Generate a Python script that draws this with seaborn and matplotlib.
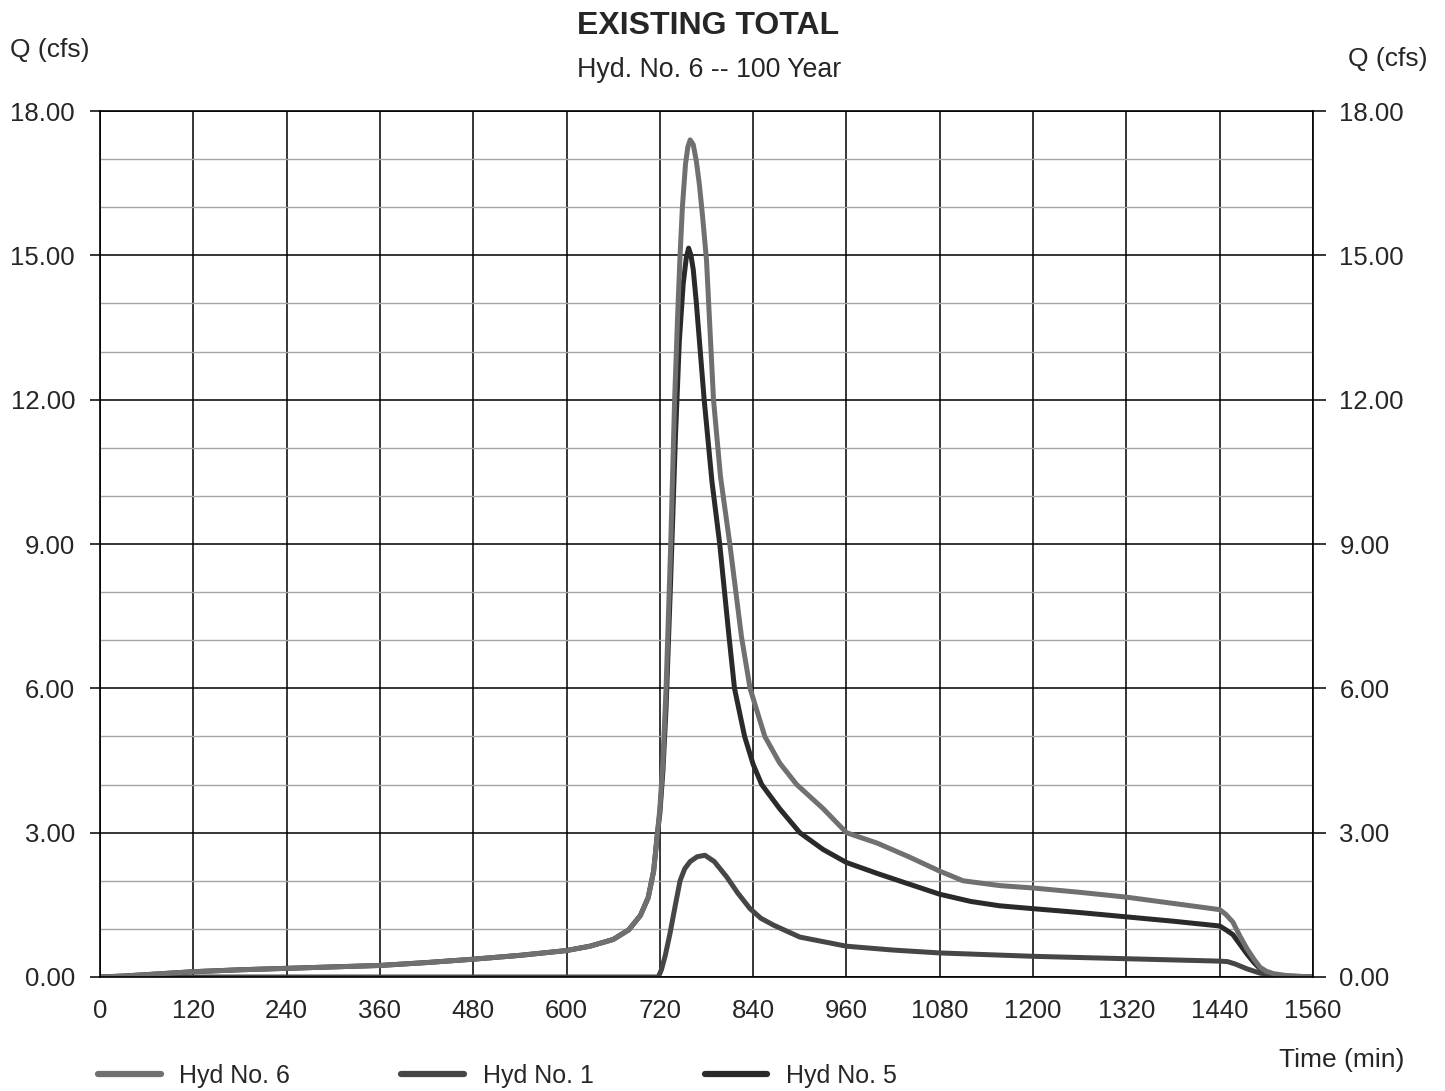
import numpy as np
import pandas as pd
import matplotlib
matplotlib.use("Agg")
import matplotlib.pyplot as plt
from matplotlib.ticker import MultipleLocator, FormatStrFormatter
import seaborn as sns

# Hydrograph ordinates (time in minutes, flow in cfs)
time6 = [0, 30, 60, 120, 180, 240, 300, 360, 420, 480, 540, 600, 630, 660, 680, 695, 705, 712, 717, 720,
         724, 728, 734, 739, 743, 746, 749, 753, 756, 759, 763, 767, 771, 775, 780, 789, 798, 810,
         825, 836, 855, 874, 896, 930, 960, 1000, 1040, 1080, 1110, 1157, 1200, 1260, 1320, 1380, 1440,
         1448, 1457, 1466, 1475, 1484, 1492, 1500, 1509, 1526, 1560]
q6 = [0, 0.02, 0.05, 0.11, 0.15, 0.18, 0.21, 0.24, 0.3, 0.37, 0.45, 0.55, 0.64, 0.78, 0.98, 1.28, 1.65, 2.2, 3.0, 3.5,
      4.5, 6.0, 9.0, 12.0, 13.8, 15.0, 16.0, 16.9, 17.25, 17.4, 17.3, 16.95, 16.45, 15.8, 14.9, 12.0, 10.4, 9.0,
      7.07, 6.0, 5.0, 4.45, 4.0, 3.5, 3.0, 2.78, 2.5, 2.2, 2.0, 1.9, 1.85, 1.76, 1.66, 1.53, 1.4,
      1.3, 1.14, 0.85, 0.59, 0.37, 0.2, 0.12, 0.07, 0.03, 0.0]

time1 = [0, 300, 600, 718, 722, 727, 733, 740, 746, 752, 759, 768, 778, 790, 806, 820, 836, 850, 866, 900,
         960, 1020, 1080, 1200, 1320, 1440, 1450, 1460, 1475, 1492, 1510, 1530, 1560]
q1 = [0, 0, 0, 0, 0.15, 0.45, 0.9, 1.5, 2.0, 2.25, 2.4, 2.5, 2.53, 2.4, 2.08, 1.75, 1.42, 1.22, 1.08, 0.83,
      0.64, 0.56, 0.5, 0.43, 0.38, 0.33, 0.32, 0.27, 0.17, 0.08, 0.03, 0.01, 0]

time5 = [0, 30, 60, 120, 180, 240, 300, 360, 420, 480, 540, 600, 630, 660, 680, 695, 705, 712, 717,
         720, 724, 728, 734, 740, 745, 750, 754, 757, 760, 763, 767, 777, 787, 797, 809, 816, 829, 840, 851,
         874, 900, 930, 960, 1000, 1037, 1080, 1120, 1157, 1200, 1260, 1320, 1380, 1440, 1448, 1457, 1466,
         1475, 1484, 1492, 1500, 1509, 1526, 1560]
q5 = [0, 0.02, 0.05, 0.11, 0.15, 0.18, 0.21, 0.24, 0.3, 0.37, 0.45, 0.55, 0.64, 0.78, 0.98, 1.28, 1.65, 2.2, 3.0,
      3.4, 4.3, 5.6, 8.3, 11.2, 13.2, 14.4, 14.95, 15.15, 15.0, 14.7, 14.0, 12.0, 10.3, 9.0, 7.07, 6.0, 5.0, 4.42, 4.0,
      3.5, 3.0, 2.65, 2.38, 2.15, 1.95, 1.72, 1.57, 1.48, 1.42, 1.34, 1.25, 1.16, 1.06, 0.98, 0.88, 0.68,
      0.48, 0.3, 0.17, 0.1, 0.05, 0.02, 0.0]

series_names = ["Hyd No. 6", "Hyd No. 1", "Hyd No. 5"]
x_ticks = list(range(0, 1561, 120))

frames = []
for name, t, q in [("Hyd No. 6", time6, q6), ("Hyd No. 1", time1, q1), ("Hyd No. 5", time5, q5)]:
    frames.append(pd.DataFrame({"Time (min)": t, "Q (cfs)": q, "Hydrograph": name}))
df = pd.concat(frames, ignore_index=True)

sns.set_style("white")
plt.rcParams["font.family"] = ["Liberation Sans", "DejaVu Sans"]

palette = {"Hyd No. 6": "#707070", "Hyd No. 1": "#464646", "Hyd No. 5": "#2a2a2a"}

fig = plt.figure(figsize=(14.45, 10.91), dpi=100)
ax = fig.add_axes([100 / 1445, 1 - 977 / 1091, 1213 / 1445, 866 / 1091])

sns.lineplot(data=df, x="Time (min)", y="Q (cfs)", hue="Hydrograph",
             hue_order=["Hyd No. 5", "Hyd No. 1", "Hyd No. 6"], palette=palette,
             estimator=None, sort=False, linewidth=3.6, ax=ax, legend=True)

ax.set_xlim(0, 1560)
ax.set_ylim(0, 18)
ax.set_xticks(x_ticks)
ax.yaxis.set_major_locator(MultipleLocator(3))
ax.yaxis.set_minor_locator(MultipleLocator(1))
ax.yaxis.set_major_formatter(FormatStrFormatter("%.2f"))
ax.set_xlabel("")
ax.set_ylabel("")

ax.grid(which="major", axis="both", color="black", linewidth=1.1)
ax.grid(which="minor", axis="y", color="#a5a5a5", linewidth=1.0)
ax.set_axisbelow(True)
for sp in ax.spines.values():
    sp.set_color("black")
    sp.set_linewidth(1.2)

ax.tick_params(axis="y", which="major", direction="out", length=7, width=1.1, color="black",
               labelsize=18.5, pad=11, left=True)
ax.tick_params(axis="y", which="minor", length=0)
ax.tick_params(axis="x", which="major", length=0, labelsize=18.5, pad=16, bottom=True)

# Right-hand flow axis
ax2 = ax.twinx()
ax2.set_ylim(0, 18)
ax2.yaxis.set_major_locator(MultipleLocator(3))
ax2.yaxis.set_major_formatter(FormatStrFormatter("%.2f"))
ax2.tick_params(axis="y", direction="out", length=9, width=1.1, color="black", labelsize=18.5, pad=10)
ax2.grid(False)
for sp in ax2.spines.values():
    sp.set_visible(False)

# Legend below the plot in series order
handles, labels = ax.get_legend_handles_labels()
lookup = dict(zip(labels, handles))
ax.get_legend().remove()
leg_handles = []
for name in series_names:
    h = lookup[name]
    h.set_linewidth(4.5)
    leg_handles.append(h)
fig.legend(leg_handles, series_names, loc="center left", ncol=3,
           bbox_to_anchor=(98 / 1445, 1 - 1076 / 1091), frameon=False,
           fontsize=18, handlelength=2.5, handletextpad=0.75, columnspacing=4.45,
           borderpad=0, borderaxespad=0)

fig.text(708 / 1445, 1 - 26 / 1091, "EXISTING TOTAL", ha="center", va="center",
         fontsize=23, fontweight="bold")
fig.text(709 / 1445, 1 - 70 / 1091, "Hyd. No. 6 -- 100 Year", ha="center", va="center", fontsize=19.3)
fig.text(10 / 1445, 1 - 50 / 1091, "Q (cfs)", ha="left", va="center", fontsize=19)
fig.text(1427 / 1445, 1 - 59 / 1091, "Q (cfs)", ha="right", va="center", fontsize=19)
fig.text(1404 / 1445, 1 - 1060 / 1091, "Time (min)", ha="right", va="center", fontsize=19)

fig.savefig("out.png", dpi=100, facecolor="white")
